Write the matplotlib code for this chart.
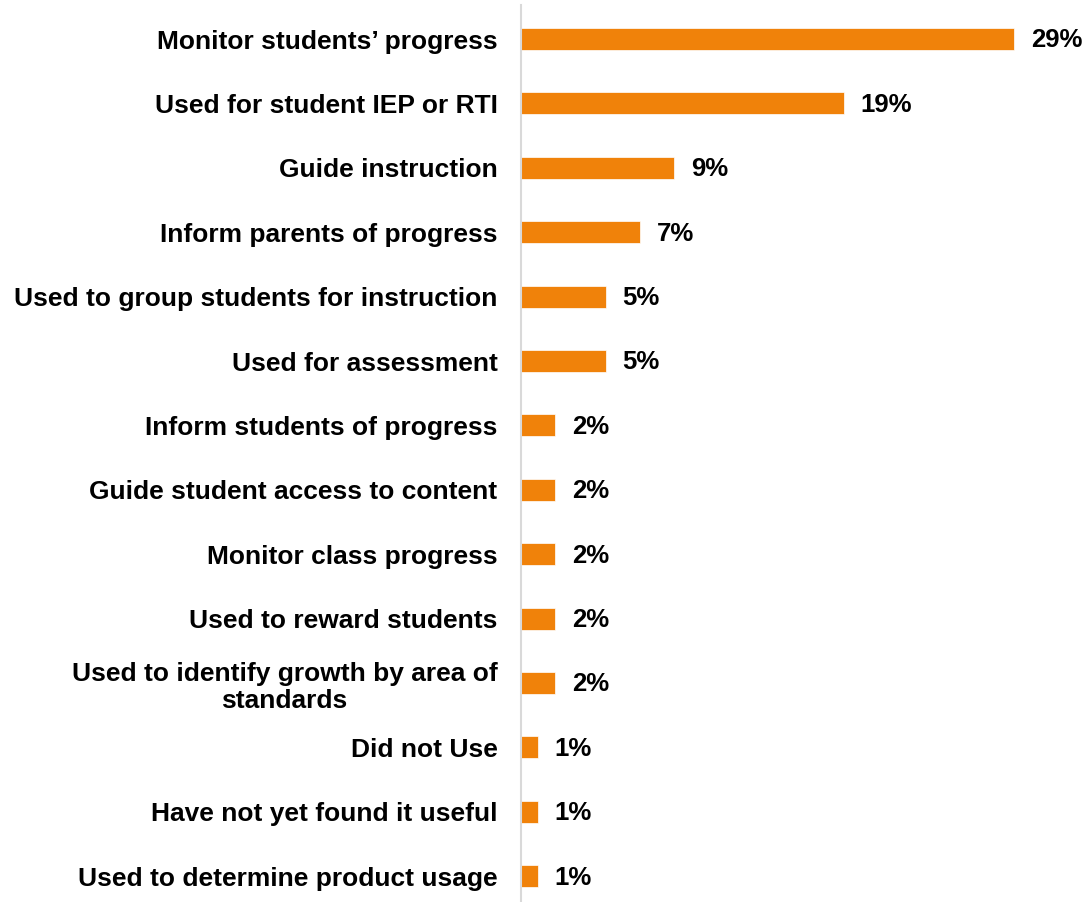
import matplotlib.pyplot as plt

categories = [
    'Monitor students\u2019 progress',
    'Used for student IEP or RTI',
    'Guide instruction',
    'Inform parents of progress',
    'Used to group students for instruction',
    'Used for assessment',
    'Inform students of progress',
    'Guide student access to content',
    'Monitor class progress',
    'Used to reward students',
    'Used to identify growth by area of\nstandards',
    'Did not Use',
    'Have not yet found it useful',
    'Used to determine product usage',
]
values = [29, 19, 9, 7, 5, 5, 2, 2, 2, 2, 2, 1, 1, 1]

BAR_COLOR = '#F0820A'

plt.rcParams['font.family'] = ['Liberation Sans', 'DejaVu Sans']
plt.rcParams['font.weight'] = 'bold'

fig = plt.figure(figsize=(10.86, 9.02), dpi=100)
ax = fig.add_axes([521 / 1086, 0, 565 / 1086, 897 / 902])

pos = list(range(len(categories)))
ax.barh(pos, values, height=0.34, color=BAR_COLOR, edgecolor='white', linewidth=0.5)

for p, v in zip(pos, values):
    ax.annotate(f'{v}%', (v, p), xytext=(12, -1), textcoords='offset points',
                ha='left', va='center', fontsize=18.5, fontweight='bold')

ax.set_yticks(pos)
ax.set_yticklabels(categories, fontsize=19, fontweight='bold')
for lbl in ax.get_yticklabels():
    lbl.set_multialignment('center')
    lbl.set_linespacing(1.2)
ax.tick_params(axis='y', length=0, pad=17)
ax.set_xticks([])
ax.set_xlim(0, 565 / 17)
ax.set_ylim(13.40, -0.528)

for side in ['top', 'right', 'bottom']:
    ax.spines[side].set_visible(False)
ax.spines['left'].set_color('#d9d9d9')
ax.spines['left'].set_linewidth(1.5)

fig.savefig('out.png', dpi=100)
